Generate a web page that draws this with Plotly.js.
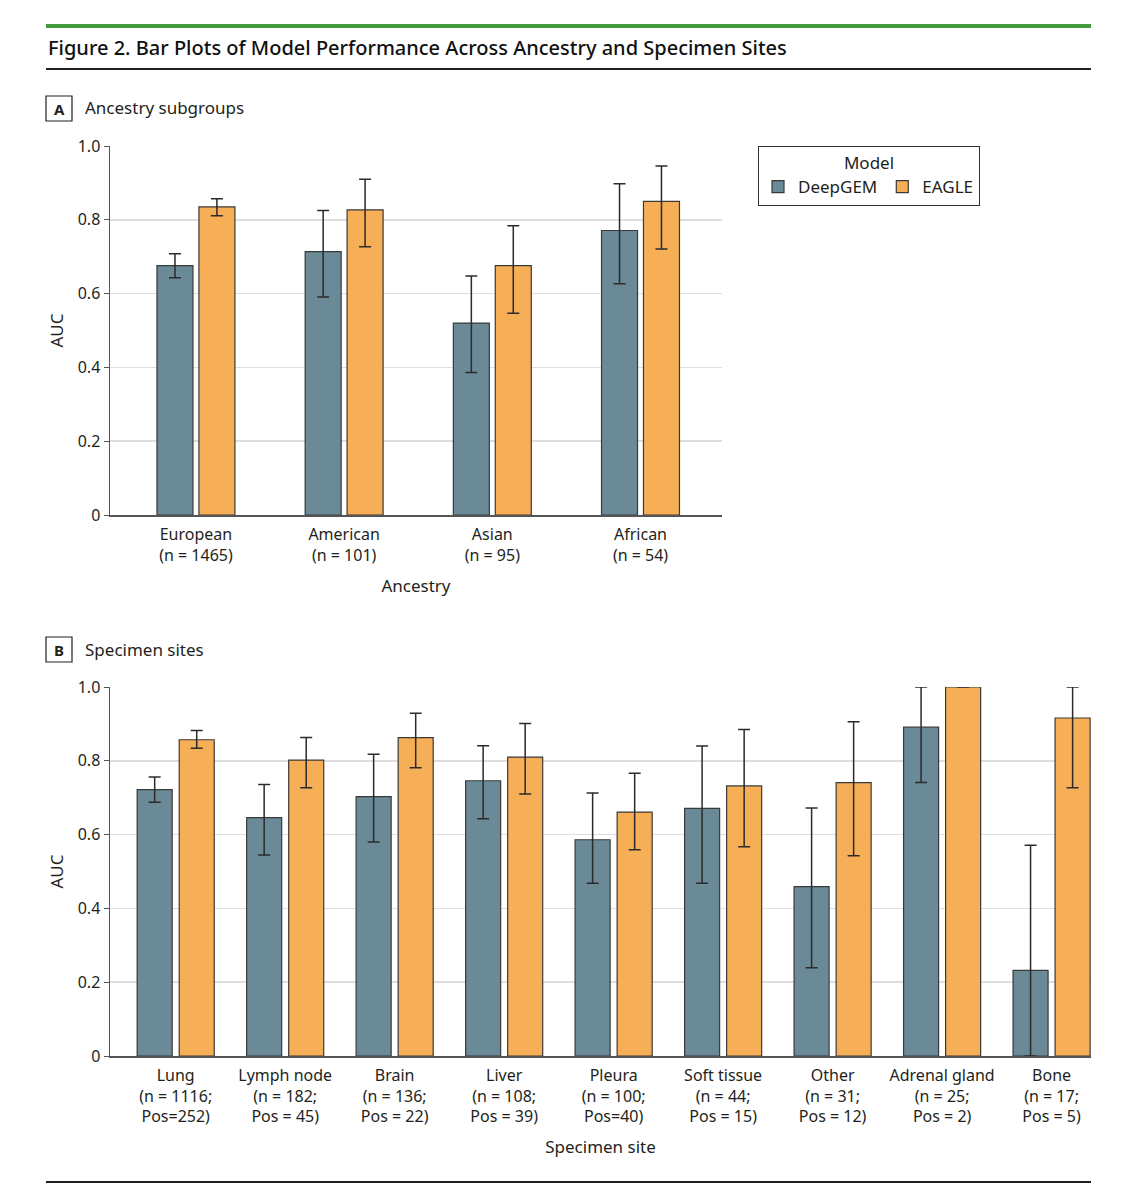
<!DOCTYPE html>
<html>
<head>
<meta charset="utf-8">
<script src="https://cdn.plot.ly/plotly-3.0.1.min.js"></script>
<style>
  html, body { margin: 0; padding: 0; background: #fff; }
  #chart { width: 1124px; height: 1200px; }
</style>
</head>
<body>
<div id="chart"></div>
<script>
// Panel A: ancestry subgroups
const ancestryCats = ['European<br>(n = 1465)', 'American<br>(n = 101)', 'Asian<br>(n = 95)', 'African<br>(n = 54)'];
const ancestryDeepGEM = [0.676, 0.714, 0.520, 0.771];
const ancestryDeepGEMLow = [0.643, 0.591, 0.386, 0.627];
const ancestryDeepGEMHigh = [0.708, 0.825, 0.648, 0.898];
const ancestryEAGLE = [0.835, 0.827, 0.676, 0.850];
const ancestryEAGLELow = [0.811, 0.727, 0.547, 0.721];
const ancestryEAGLEHigh = [0.857, 0.910, 0.784, 0.946];

// Panel B: specimen sites
const siteCats = [
  'Lung<br>(n = 1116;<br>Pos=252)', 'Lymph node<br>(n = 182;<br>Pos = 45)', 'Brain<br>(n = 136;<br>Pos = 22)',
  'Liver<br>(n = 108;<br>Pos = 39)', 'Pleura<br>(n = 100;<br>Pos=40)', 'Soft tissue<br>(n = 44;<br>Pos = 15)',
  'Other<br>(n = 31;<br>Pos = 12)', 'Adrenal gland<br>(n = 25;<br>Pos = 2)', 'Bone<br>(n = 17;<br>Pos = 5)'
];
const siteDeepGEM = [0.722, 0.646, 0.703, 0.746, 0.586, 0.671, 0.459, 0.891, 0.232];
const siteDeepGEMLow = [0.688, 0.545, 0.580, 0.643, 0.468, 0.468, 0.239, 0.741, 0.0];
const siteDeepGEMHigh = [0.756, 0.736, 0.818, 0.841, 0.713, 0.840, 0.672, 1.0, 0.571];
const siteEAGLE = [0.857, 0.802, 0.863, 0.810, 0.661, 0.732, 0.741, 1.0, 0.916];
const siteEAGLELow = [0.834, 0.727, 0.781, 0.710, 0.559, 0.567, 0.543, 1.0, 0.727];
const siteEAGLEHigh = [0.882, 0.863, 0.929, 0.901, 0.766, 0.885, 0.906, 1.0, 1.0];

const yTickVals = [0, 0.2, 0.4, 0.6, 0.8, 1.0];
const yTickText = ['0', '0.2', '0.4', '0.6', '0.8', '1.0'];

const FONT = '"Noto Sans", "Open Sans", sans-serif';
const INK = '#231f20';
const COLORS = { DeepGEM: '#698a96', EAGLE: '#f6ae57' };
const W = 1124, H = 1200;
const px = (x) => x / W;
const py = (y) => 1 - y / H;

function barTrace(name, cats, vals, low, high, axes, width, offset, showlegend) {
  return {
    type: 'bar',
    name: name,
    x: cats,
    y: vals,
    width: width,
    offset: offset,
    xaxis: axes[0],
    yaxis: axes[1],
    showlegend: showlegend,
    legendgroup: name,
    cliponaxis: false,
    marker: { color: COLORS[name], line: { color: '#3a3a3a', width: 1.2 } },
    error_y: {
      type: 'data',
      symmetric: false,
      array: high.map((h, i) => h - vals[i]),
      arrayminus: low.map((l, i) => vals[i] - l),
      color: '#2b2b2b',
      thickness: 1.5,
      width: 6
    },
    hoverinfo: 'y'
  };
}

const data = [
  barTrace('DeepGEM', ancestryCats, ancestryDeepGEM, ancestryDeepGEMLow, ancestryDeepGEMHigh, ['x', 'y'], 0.243, -0.263, true),
  barTrace('EAGLE', ancestryCats, ancestryEAGLE, ancestryEAGLELow, ancestryEAGLEHigh, ['x', 'y'], 0.243, 0.02, true),
  barTrace('DeepGEM', siteCats, siteDeepGEM, siteDeepGEMLow, siteDeepGEMHigh, ['x2', 'y2'], 0.32, -0.352, false),
  barTrace('EAGLE', siteCats, siteEAGLE, siteEAGLELow, siteEAGLEHigh, ['x2', 'y2'], 0.32, 0.032, false)
];

const xBase = {
  type: 'category',
  showgrid: false,
  showline: true,
  linecolor: '#555',
  linewidth: 1.5,
  ticks: '',
  ticklabelstandoff: 4,
  tickfont: { family: FONT, size: 16, color: INK },
  title: { font: { family: FONT, size: 17, color: INK }, standoff: 15 },
  fixedrange: true
};
const yBase = {
  range: [0, 1],
  tickvals: yTickVals,
  ticktext: yTickText,
  showgrid: true,
  gridcolor: '#dedede',
  gridwidth: 1.5,
  zeroline: false,
  showline: true,
  linecolor: '#555',
  linewidth: 1.5,
  ticks: 'outside',
  ticklen: 5,
  tickcolor: '#555',
  tickfont: { family: FONT, size: 16, color: INK },
  title: { text: 'AUC', font: { family: FONT, size: 17, color: INK }, standoff: 10 },
  fixedrange: true
};

const layout = {
  width: W,
  height: H,
  margin: { l: 0, r: 0, t: 0, b: 0 },
  paper_bgcolor: '#fff',
  plot_bgcolor: '#fff',
  barmode: 'overlay',
  font: { family: FONT, color: INK },
  xaxis: Object.assign({}, xBase, {
    domain: [px(110), px(722)], anchor: 'y', range: [-0.58, 3.55],
    title: Object.assign({}, xBase.title, { text: 'Ancestry' })
  }),
  yaxis: Object.assign({}, yBase, { domain: [py(515), py(146)], anchor: 'x' }),
  xaxis2: Object.assign({}, xBase, {
    domain: [px(110), px(1091)], anchor: 'y2', range: [-0.6, 8.36],
    title: Object.assign({}, xBase.title, { text: 'Specimen site' })
  }),
  yaxis2: Object.assign({}, yBase, { domain: [py(1056), py(687)], anchor: 'x2' }),
  legend: {
    x: px(758), y: py(146), xanchor: 'left', yanchor: 'top',
    orientation: 'h',
    bordercolor: '#333', borderwidth: 1,
    bgcolor: '#fff',
    font: { family: FONT, size: 17, color: INK },
    title: { text: 'Model', side: 'top center', font: { family: FONT, size: 17, color: INK } },
    itemclick: false, itemdoubleclick: false
  },
  shapes: [
    { type: 'line', xref: 'paper', yref: 'paper', x0: px(46), x1: px(1091), y0: py(26), y1: py(26), line: { color: '#429b3a', width: 4 } },
    { type: 'line', xref: 'paper', yref: 'paper', x0: px(46), x1: px(1091), y0: py(69), y1: py(69), line: { color: INK, width: 2 } },
    { type: 'line', xref: 'paper', yref: 'paper', x0: px(46), x1: px(1091), y0: py(1182), y1: py(1182), line: { color: INK, width: 2 } },
    { type: 'rect', xref: 'paper', yref: 'paper', x0: px(46), x1: px(72), y0: py(96), y1: py(121), line: { color: INK, width: 1.2 } },
    { type: 'rect', xref: 'paper', yref: 'paper', x0: px(46), x1: px(72), y0: py(637), y1: py(662), line: { color: INK, width: 1.2 } }
  ],
  annotations: [
    { xref: 'paper', yref: 'paper', x: px(46), y: py(47), xanchor: 'left', yanchor: 'middle', showarrow: false,
      text: 'Figure 2. Bar Plots of Model Performance Across Ancestry and Specimen Sites',
      font: { family: FONT, size: 20, color: '#111', weight: 500 } },
    { xref: 'paper', yref: 'paper', x: px(59), y: py(108.5), xanchor: 'center', yanchor: 'middle', showarrow: false,
      text: '<b>A</b>', font: { family: FONT, size: 15, color: INK } },
    { xref: 'paper', yref: 'paper', x: px(83), y: py(108), xanchor: 'left', yanchor: 'middle', showarrow: false,
      text: 'Ancestry subgroups', font: { family: FONT, size: 17, color: INK } },
    { xref: 'paper', yref: 'paper', x: px(59), y: py(649.5), xanchor: 'center', yanchor: 'middle', showarrow: false,
      text: '<b>B</b>', font: { family: FONT, size: 15, color: INK } },
    { xref: 'paper', yref: 'paper', x: px(83), y: py(649), xanchor: 'left', yanchor: 'middle', showarrow: false,
      text: 'Specimen sites', font: { family: FONT, size: 17, color: INK } }
  ]
};

Plotly.newPlot('chart', data, layout, { displayModeBar: false, staticPlot: true });
</script>
</body>
</html>
